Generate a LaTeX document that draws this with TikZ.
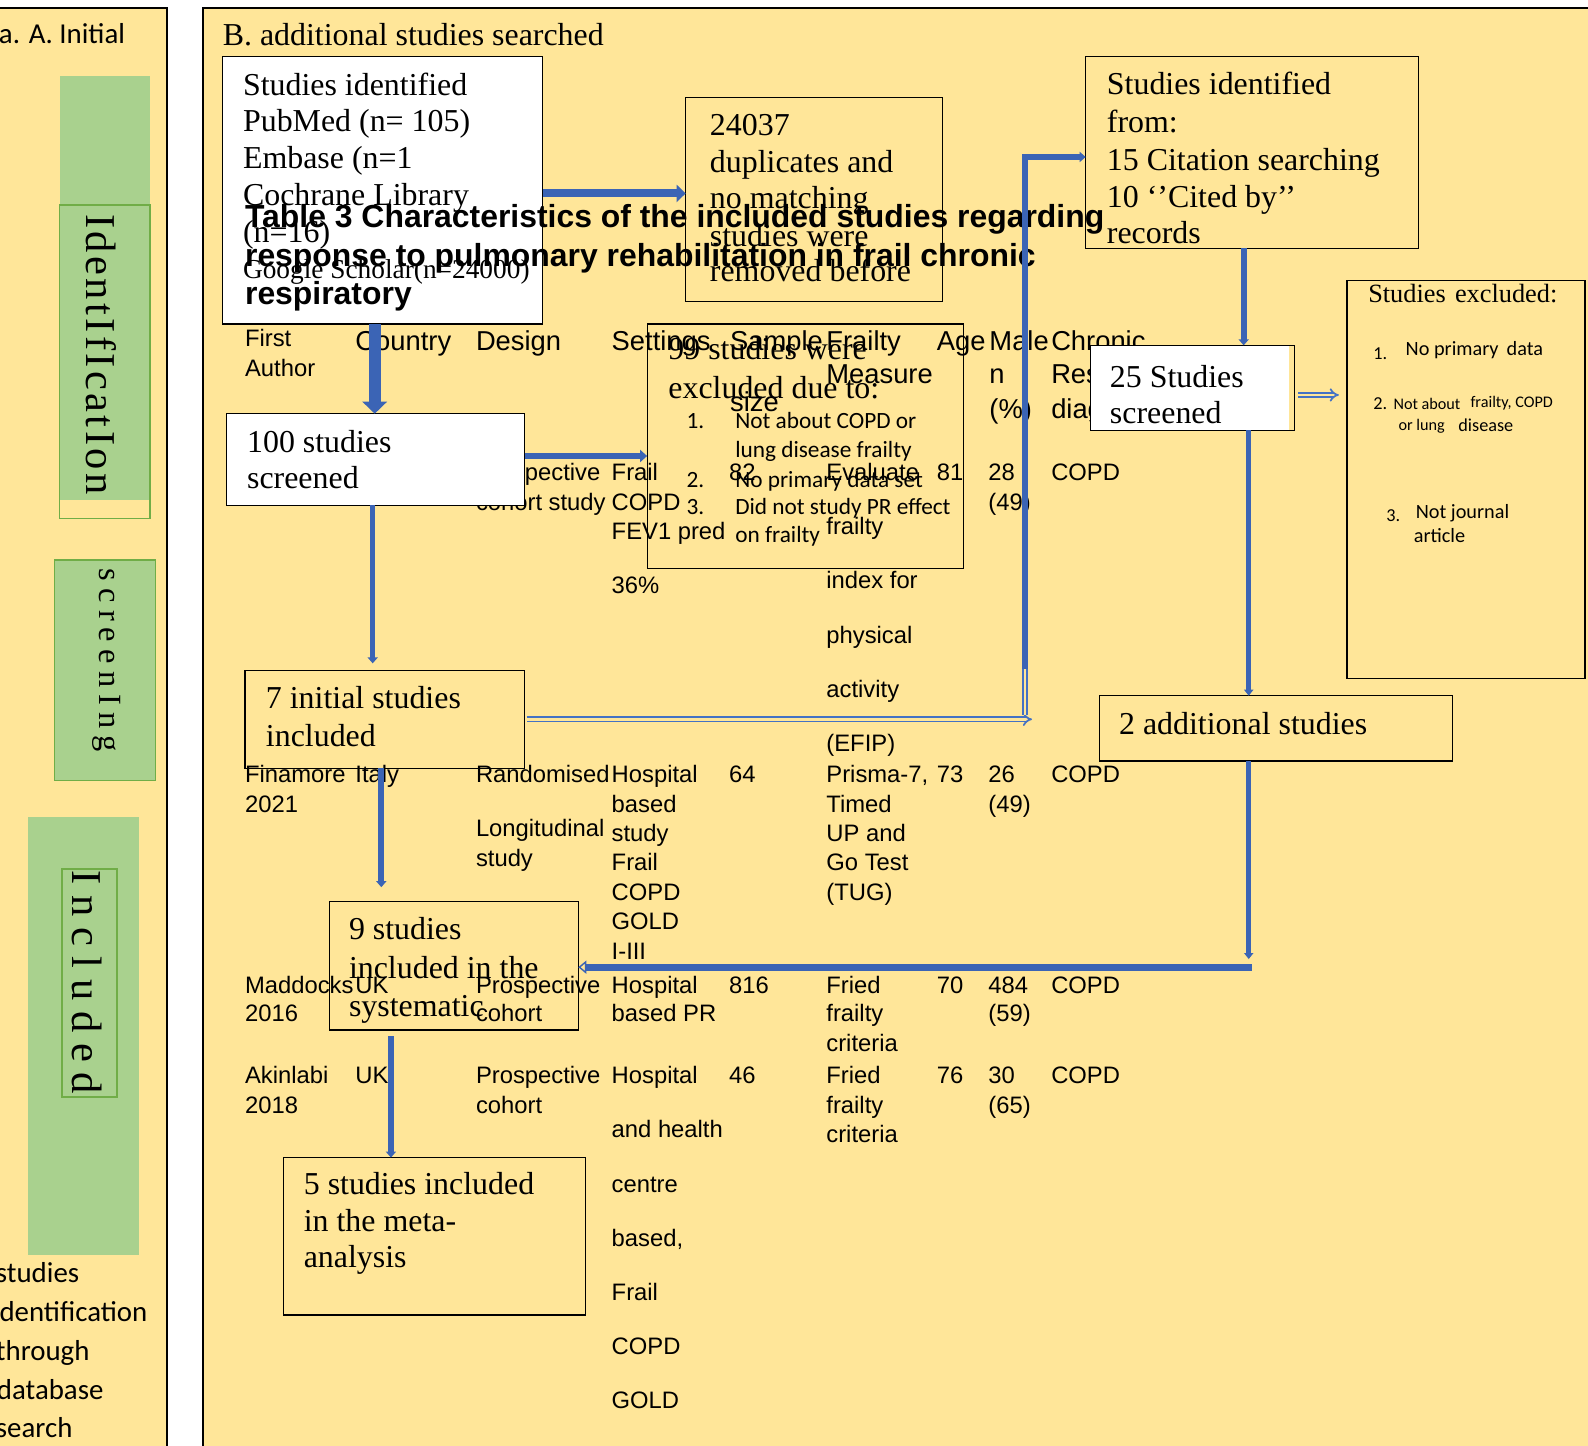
\documentclass[tikz,border=0pt]{standalone}
\usepackage{fontspec}
\setmainfont{Liberation Serif}
\newfontfamily\arialf{Liberation Sans}
\newfontfamily\calibf{Carlito}
\newfontfamily\vidf[LetterSpace=8]{Liberation Serif}
\newfontfamily\vscf[LetterSpace=22]{Liberation Serif}
\newfontfamily\vinf[LetterSpace=25]{Liberation Serif}
\usetikzlibrary{arrows.meta,fit}
\definecolor{ybg}{HTML}{FFE699}
\definecolor{gfill}{HTML}{A9D18E}
\definecolor{gline}{HTML}{70AD47}
\definecolor{ablue}{HTML}{3B64B5}
\definecolor{hblue}{HTML}{4472C4}
\newcounter{tn}
\newcommand\tx[4][]{\stepcounter{tn}\edef\tname{t\arabic{tn}}\node[tb,#1] (\tname) at (#2,#3) {#4};}
\tikzset{
  tb/.style={anchor=base west, inner sep=0pt, outer sep=0pt},
  tm/.style={font=\fontsize{31.5}{36}\selectfont},
  ts/.style={font=\fontsize{27}{31}\selectfont},
  te/.style={font=\fontsize{26}{29}\selectfont},
  ar/.style={font=\arialf\fontsize{23.5}{28}\selectfont},
  arh/.style={font=\arialf\fontsize{27}{31}\selectfont},
  arb/.style={font=\arialf\bfseries\fontsize{31.5}{36}\selectfont},
  ca/.style={font=\calibf\fontsize{23}{27}\selectfont},
  cl/.style={font=\calibf\fontsize{28.5}{31}\selectfont},
  c20/.style={font=\calibf\fontsize{20}{24}\selectfont},
  c18/.style={font=\calibf\fontsize{18}{22}\selectfont},
  c16/.style={font=\calibf\fontsize{16}{20}\selectfont},
  wbox/.style={draw=black, fill=white, line width=1.2pt, inner sep=0pt, outer sep=0pt},
  ybox/.style={draw=black, line width=1.2pt, inner sep=0pt, outer sep=0pt},
  sol/.style={draw=ablue, line width=#1},
  hol/.style={draw=hblue, double=ybg, double distance=2.6pt, line width=1.7pt},
  vtext/.style={rotate=-90, inner sep=0pt, outer sep=0pt},
}
\begin{document}
\begin{tikzpicture}[x=1pt,y=-1pt]
\useasboundingbox (0,0) rectangle (1568,1427);
\fill[white] (0,0) rectangle (1568,1427);
% panels
\fill[ybg] (-2,7.5) rectangle (164.6,1430);
\draw[line width=2pt] (-2,7.5) -- (164.6,7.5) -- (164.6,1430);
\fill[ybg] (200,7.5) rectangle (1570,1430);
\draw[line width=2pt] (200,1430) -- (200,7.5) -- (1570,7.5);
% left panel green bands
\fill[gfill] (59,74.6) rectangle (148,494);
\draw[gline, line width=1.3pt] (59,202.5) rectangle (148,512);
\filldraw[fill=gfill, draw=gline, line width=1.3pt] (53.6,553) rectangle (153.7,770.7);
\fill[gfill] (27.3,807) rectangle (137,1238.7);
\draw[gline, line width=2pt] (61,858) rectangle (116,1083);
\node[vtext, font=\vidf\fontsize{42}{42}\selectfont] (vid) at (100.3,350) {IdentIfIcatIon};
\node[vtext, font=\vscf\fontsize{32}{32}\selectfont] (vsc) at (105,652) {screenIng};
\node[vtext, font=\vinf\fontsize{42}{42}\selectfont] (vin) at (86.3,970) {Included};
\tx[cl]{-1}{42.7}{a. A. Initial}
\tx[cl]{-4}{1266}{studies}
\tx[cl]{-7}{1305}{identification}
\tx[cl]{-4}{1343}{through}
\tx[cl]{-3}{1382}{database}
\tx[cl]{-4}{1419}{search}
% right panel title
\tx[tm]{220}{44.5}{B. additional studies searched}
% box 1
\node[wbox, fit={(220,56)(536,320)}] (b1) {};
\tx[tm]{240}{94}{Studies identified}
\tx[tm]{240}{130}{PubMed (n= 105)}
\tx[tm]{240}{166}{Embase (n=1}
\tx[tm]{240}{203}{Cochrane Library}
\tx[tm]{240}{239}{(n=16)}
\tx[ts]{240}{275}{Google Scholar(n=24000)}
% bold title
\tx[arb]{242}{225}{Table 3 Characteristics of the included studies regarding}
\tx[arb]{242}{263}{response to pulmonary rehabilitation in frail chronic}
\tx[arb]{242}{301}{respiratory}
% table header
\tx[ar]{242}{342.5}{First}
\tx[ar]{242}{372}{Author}
\tx[arh]{351}{346}{Country}
\tx[arh]{470}{346}{Design}
\tx[arh]{604}{346}{Settings}
\tx[arh]{721}{346}{Sample}
\tx[arh]{721}{406.6}{size}
\tx[arh]{816}{346}{Frailty}
\tx[arh]{816}{379}{Measure}
\tx[arh]{925}{346}{Age}
\tx[arh]{977}{346}{Male}
\tx[arh]{977}{379}{n}
\tx[arh]{977}{413}{(\%)}
\tx[arh]{1038}{346}{Chronic}
\tx[arh]{1038}{379}{Respiratory}
\tx[arh]{1038}{413}{diagnosis}
% row 1
\tx[ar]{470}{474}{Prospective}
\tx[ar]{470}{504}{cohort study}
\tx[ar]{604}{474}{Frail}
\tx[ar]{604}{504}{COPD}
\tx[ar]{604}{533}{FEV1 pred}
\tx[ar]{604}{586}{36\%}
\tx[ar]{720}{474}{82}
\tx[ar]{816}{474}{Evaluate}
\tx[ar]{816}{528}{frailty}
\tx[ar]{816}{581.5}{index for}
\tx[ar]{816}{635}{physical}
\tx[ar]{816}{688.5}{activity}
\tx[ar]{816}{742}{(EFIP)}
\tx[ar]{925}{474}{81}
\tx[ar]{976}{474}{28}
\tx[ar]{976}{504}{(49)}
\tx[ar]{1038}{474}{COPD}
% row 2
\tx[ar]{242}{773}{Finamore}
\tx[ar]{242}{802.5}{2021}
\tx[ar]{351}{773}{Italy}
\tx[ar]{470}{773}{Randomised}
\tx[ar]{470}{826}{Longitudinal}
\tx[ar]{470}{856}{study}
\tx[ar]{604}{773}{Hospital}
\tx[ar]{604}{802}{based}
\tx[ar]{604}{831}{study}
\tx[ar]{604}{860}{Frail}
\tx[ar]{604}{889}{COPD}
\tx[ar]{604}{918}{GOLD}
\tx[ar]{604}{947}{I-III}
\tx[ar]{720}{773}{64}
\tx[ar]{816}{773}{Prisma-7,}
\tx[ar]{816}{802}{Timed}
\tx[ar]{816}{831}{UP and}
\tx[ar]{816}{860}{Go Test}
\tx[ar]{816}{889}{(TUG)}
\tx[ar]{925}{773}{73}
\tx[ar]{976}{773}{26}
\tx[ar]{976}{802}{(49)}
\tx[ar]{1038}{773}{COPD}
% row 3
\tx[ar]{242}{980.5}{Maddocks}
\tx[ar]{242}{1009}{2016}
\tx[ar]{351}{980.5}{UK}
\tx[ar]{470}{980.5}{Prospective}
\tx[ar]{470}{1009}{cohort}
\tx[ar]{604}{980.5}{Hospital}
\tx[ar]{604}{1009}{based PR}
\tx[ar]{720}{980.5}{816}
\tx[ar]{816}{980.5}{Fried}
\tx[ar]{816}{1009}{frailty}
\tx[ar]{816}{1038}{criteria}
\tx[ar]{925}{980.5}{70}
\tx[ar]{976}{980.5}{484}
\tx[ar]{976}{1009}{(59)}
\tx[ar]{1038}{980.5}{COPD}
% row 4
\tx[ar]{242}{1070}{Akinlabi}
\tx[ar]{242}{1099}{2018}
\tx[ar]{351}{1070}{UK}
\tx[ar]{470}{1070}{Prospective}
\tx[ar]{470}{1099}{cohort}
\tx[ar]{604}{1070}{Hospital}
\tx[ar]{604}{1123.5}{and health}
\tx[ar]{604}{1177}{centre}
\tx[ar]{604}{1230.5}{based,}
\tx[ar]{604}{1284}{Frail}
\tx[ar]{604}{1337.5}{COPD}
\tx[ar]{604}{1391}{GOLD}
\tx[ar]{720}{1070}{46}
\tx[ar]{816}{1070}{Fried}
\tx[ar]{816}{1099}{frailty}
\tx[ar]{816}{1128}{criteria}
\tx[ar]{925}{1070}{76}
\tx[ar]{976}{1070}{30}
\tx[ar]{976}{1099}{(65)}
\tx[ar]{1038}{1070}{COPD}
% box 2
\node[ybox, fit={(677,96)(931,298)}] (b2) {};
\tx[tm]{701}{134}{24037}
\tx[tm]{701}{170}{duplicates and}
\tx[tm]{701}{206}{no matching}
\tx[tm]{701}{243}{studies were}
\tx[tm]{701}{278}{removed before}
% box 3
\node[ybox, fit={(1072,56)(1401,245)}] (b3) {};
\tx[tm]{1093}{93.6}{Studies identified}
\tx[tm]{1093}{131}{from:}
\tx[tm]{1093}{168}{15 Citation searching}
\tx[tm]{1093}{204.6}{10 ‘’Cited by’’}
\tx[tm]{1093}{240.6}{records}
% box 4
\node[ybox, fit={(1330,277)(1565,670)}] (b4) {};
\tx[te]{1351}{299}{Studies\hspace{0.35em}excluded:}
\tx[c18]{1356}{355}{1.}
\tx[c20]{1388}{351.5}{No primary\hspace{0.4em}data}
\tx[c18]{1356}{404}{2.}
\tx[c16]{1376}{404}{Not about}
\tx[c16]{1452}{402}{frailty, COPD}
\tx[c16]{1381}{425}{or lung}
\tx[c18]{1440}{426}{disease}
\tx[c18]{1369}{515}{3.}
\tx[c20]{1398}{512}{Not journal}
\tx[c20]{1396}{536}{article}
% box 7
\node[ybox, fit={(639,320)(951,561)}] (b7) {};
\tx[tm]{660}{355}{99 studies were}
\tx[tm]{660}{393}{excluded due to:}
\tx[ca]{678}{423}{1.}
\tx[ca]{726}{423}{Not about COPD or}
\tx[ca]{726}{452}{lung disease frailty}
\tx[ca]{678}{481}{2.}
\tx[ca]{726}{481}{No primary data set}
\tx[ca]{678}{508.5}{3.}
\tx[ca]{726}{508.5}{Did not study PR effect}
\tx[ca]{726}{536}{on frailty}
% box 6
\node[wbox, fit={(224,408.5)(518,499)}] (b6) {};
\tx[tm]{244}{447}{100 studies}
\tx[tm]{244}{482}{screened}
% box 5
\node[wbox, fit={(1077,341)(1278,425)}] (b5) {};
\fill[ybg] (1273,341.6) rectangle (1277.4,424.4);
\tx[tm]{1096}{383}{25 Studies}
\tx[tm]{1096}{418}{screened}
% box 8
\node[ybox, fit={(242,662)(518,758.5)}] (b8) {};
\tx[tm]{262.6}{700}{7 initial studies}
\tx[tm]{262.6}{737}{included}
% box 9
\node[ybox, fit={(1085.5,687)(1434,751.5)}] (b9) {};
\tx[tm]{1105}{725}{2 additional studies}
% box 10
\node[ybox, fit={(325,890)(571,1017)}] (b10) {};
\tx[tm]{344.6}{928}{9 studies}
\tx[tm]{344.6}{966}{included in the}
\tx[tm]{344.6}{1004}{systematic}
% box 11
\node[ybox, fit={(280,1143)(578,1298.5)}] (b11) {};
\tx[tm]{300}{1179}{5 studies included}
\tx[tm]{300}{1216}{in the meta-}
\tx[tm]{300}{1252}{analysis}
% coordinates for connectors
\coordinate (ex) at (376.5,876);
\coordinate (fx) at (386,0);
\coordinate (gend) at (1019,0);
\coordinate (vd) at (1012,706);
\coordinate (vb) at (1012,661);
\coordinate (vt) at (1012,155);
\coordinate (hx) at (1228,0);
\coordinate (jx) at (1233,0);
\coordinate (kend) at (1233,947);
\coordinate (kc) at (1236,955);
% connectors
\draw[sol=8pt, -{Triangle[length=9pt,width=17pt]}] ([yshift=-3pt]b1.east) -- ([yshift=-3pt]b1.east -| b2.west);
\draw[sol=12pt, -{Triangle[length=12pt,width=24pt]}] ([xshift=-8pt]b1.south) -- ([xshift=-8pt]b1.south |- b6.north);
\draw[sol=6pt, -{Triangle[length=7pt,width=12pt]}] ([yshift=3.5pt]b6.east) -- ([yshift=3.5pt]b6.east -| b7.west);
\draw[sol=5pt, -{Triangle[length=6pt,width=10pt]}] ([xshift=-3pt]b6.south) -- ([xshift=-3pt,yshift=7pt]b6.south |- b8.north);
\draw[sol=6pt, -{Triangle[length=6pt,width=10pt]}] ([xshift=-3.5pt]b8.south) -- (ex);
\draw[sol=6pt, -{Triangle[length=6pt,width=10pt]}, shorten <=6pt] (b10.south -| fx) -- (b11.north -| fx);
\draw[hol, -{Implies}, shorten <=2pt] (b8.east) -- (b8.east -| gend);
\draw[hol] (vd) -- (vb);
\draw[sol=6pt, -{Triangle[length=6pt,width=10pt]}] (vb) -- (vt) -- (vt -| b3.west);
\draw[sol=6pt, -{Triangle[length=6pt,width=10pt]}] (b3.south -| hx) -- (b5.north -| hx);
\draw[hol, -{Implies}, shorten <=4pt, shorten >=8pt] ([yshift=-7pt]b5.east) -- ([yshift=-7pt]b5.east -| b4.west);
\draw[sol=5pt, -{Triangle[length=6pt,width=9pt]}] (b5.south -| jx) -- (b9.north -| jx);
\draw[sol=5pt, -{Triangle[length=6pt,width=9pt]}] (b9.south -| jx) -- (kend);
\draw[sol=7pt, -{Triangle[open,line width=1.4pt,length=8pt,width=13pt]}] (kc) -- (kc -| b10.east);
\end{tikzpicture}
\end{document}
